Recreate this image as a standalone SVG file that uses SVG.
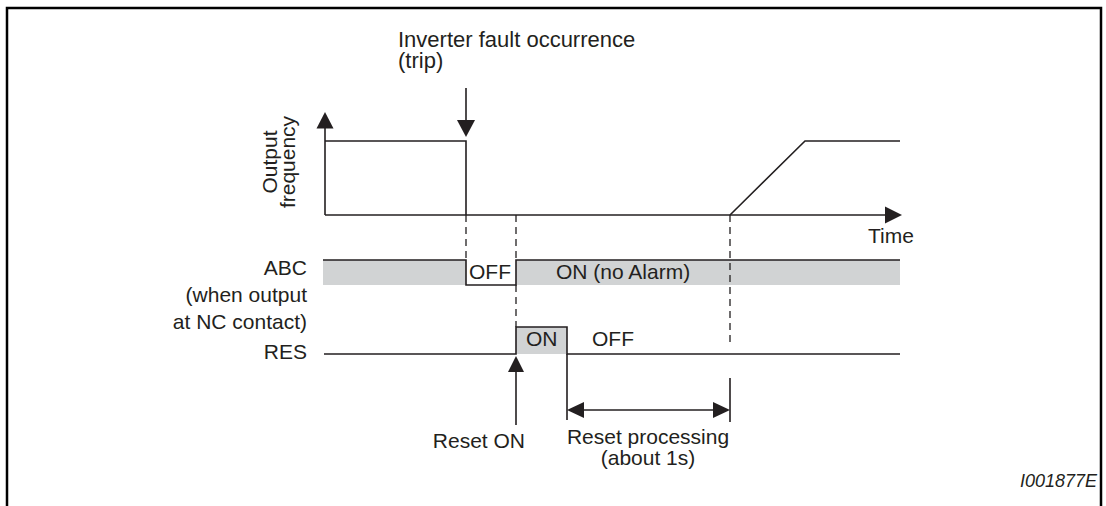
<svg xmlns="http://www.w3.org/2000/svg" width="1106" height="506" viewBox="0 0 1106 506">
<style>
text{font-family:"Liberation Sans",Arial,sans-serif;font-size:21px;fill:#231f20}
.ln{fill:none;stroke:#231f20;stroke-width:1.6}
.ds{fill:none;stroke:#231f20;stroke-width:1.3;stroke-dasharray:7 5}
.hd{fill:#231f20;stroke:none}
.gr{fill:#d1d3d4;stroke:none}
.r{text-anchor:end}
.m{text-anchor:middle}
</style>
<rect width="1106" height="506" fill="#fff"/>
<path d="M7,506 V8 H1101 V506" fill="none" stroke="#000" stroke-width="2.5"/>

<g id="fault-label">
<text x="398" y="47" style="font-size:22px">Inverter fault occurrence</text>
<text x="398" y="68" style="font-size:22px">(trip)</text>
</g>
<g id="axis-label">
<text class="m" transform="translate(277,162) rotate(-90)">Output</text>
<text class="m" transform="translate(295,162) rotate(-90)">frequency</text>
</g>
<g id="time-label"><text x="868" y="243">Time</text></g>
<g id="abc-label">
<text class="r" x="307" y="275">ABC</text>
<text class="r" x="307" y="302">(when output</text>
<text class="r" x="307" y="329">at NC contact)</text>
</g>
<g id="res-label"><text class="r" x="307" y="359">RES</text></g>

<g id="abc-signal">
<rect class="gr" x="323" y="260" width="143" height="25"/>
<rect class="gr" x="516" y="260" width="384" height="25"/>
<path class="ln" d="M323,260 H466 V285 H516 V260 H900" stroke-width="2"/>
<text x="469" y="279">OFF</text>
<text x="556" y="279">ON (no Alarm)</text>
</g>
<g id="res-signal">
<rect class="gr" x="516" y="327" width="51" height="27"/>
<path class="ln" d="M324,354 H516 V327 H567 V354 H900"/>
<text x="526" y="346">ON</text>
<text x="592" y="346">OFF</text>
</g>
<g id="freq-signal">
<path class="ln" d="M325,141 H466 V215"/>
<path class="ln" d="M730,215 L805,141 H900"/>
</g>
<g id="reset-on-label"><text class="r" x="525" y="448">Reset ON</text></g>
<g id="reset-proc-label">
<text class="m" x="648" y="444">Reset processing</text>
<text class="m" x="648" y="465">(about 1s)</text>
</g>
<g id="id-label"><text class="r" x="1097" y="487" style="font-size:18px;font-style:italic">I001877E</text></g>

<g id="connectors">
<line class="ln" x1="466" y1="88" x2="466" y2="122"/>
<polygon class="hd" points="457,120 475,120 466,137"/>
<line class="ln" x1="325" y1="127" x2="325" y2="215"/>
<polygon class="hd" points="316.5,128.5 333.5,128.5 325,112"/>
<line class="ln" x1="325" y1="215" x2="887" y2="215"/>
<polygon class="hd" points="885,206.5 885,223.5 902,215"/>
<path class="ds" d="M466,215 V260 M516,215 V260 M516,285 V327 M730,215 V346"/>
<path class="ln" d="M567,354 V420 M730,378 V422" stroke-width="1.3"/>
<line class="ln" x1="582" y1="410" x2="715" y2="410"/>
<polygon class="hd" points="567,410 584,402 584,418"/>
<polygon class="hd" points="730,410 713,402 713,418"/>
<line class="ln" x1="516" y1="370" x2="516" y2="425"/>
<polygon class="hd" points="508,372 524,372 516,356"/>
</g>
</svg>
